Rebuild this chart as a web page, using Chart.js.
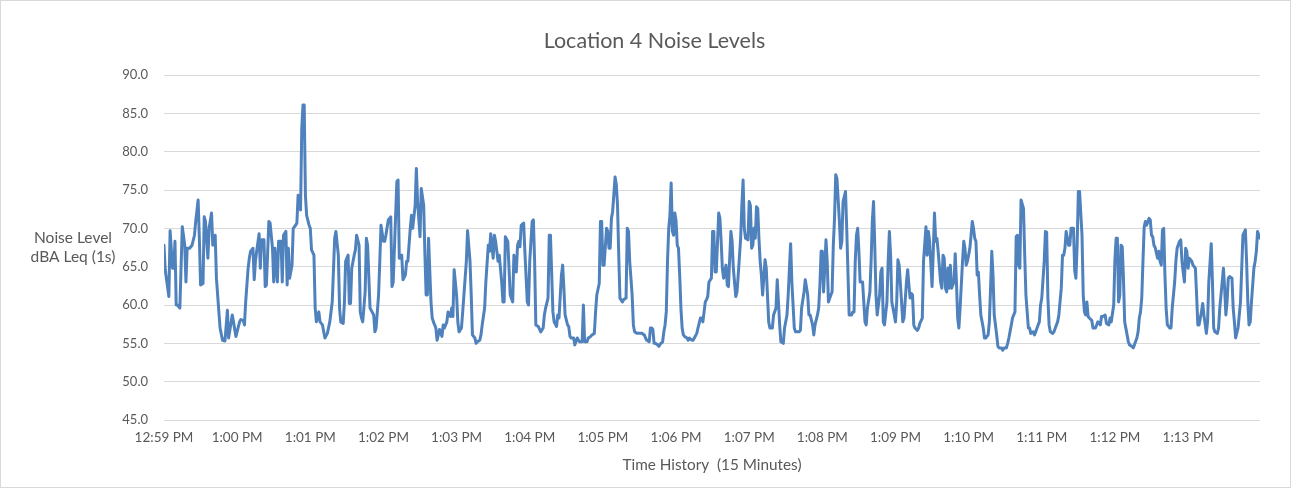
<!DOCTYPE html>
<html>
<head>
<meta charset="utf-8">
<title>Location 4 Noise Levels</title>
<script src="https://cdn.jsdelivr.net/npm/chart.js@4.4.1/dist/chart.umd.min.js"></script>
<style>
  html, body { margin: 0; padding: 0; background: #fff; }
  #wrap { width: 1291px; height: 489px; }
</style>
</head>
<body>
<div id="wrap"><canvas id="noiseChart" width="1291" height="489"></canvas></div>
<script>
// Chart text
const chartTitle = 'Location 4 Noise Levels';
const yTitleLines = ['Noise Level', 'dBA Leq (1s)'];
const xTitle = 'Time History  (15 Minutes)';

// Axis setup: start clock time, seconds between labels, last second, dBA range
const startTime = { hour: 12, minute: 59 };
const labelEvery = 60;
const lastSecond = 899;
const yRange = [45, 90, 5];

// Seconds from 12:59 PM and the matching Leq(1s) level
const seconds = [
  0, 1, 4, 5, 7, 8, 9, 10, 11, 13, 15, 17, 18, 19, 21, 23, 25, 26, 28, 29, 30, 32, 33, 34, 36, 37, 39, 40, 42, 43, 45, 46, 48, 50, 52, 53, 56, 57, 59,
  62, 63, 65, 66, 67, 69, 70, 71, 73, 74, 75, 76, 78, 79, 80, 82, 83, 84, 86, 87, 89, 90, 91, 93, 94, 96, 97, 98, 100, 101, 102, 103, 105, 106, 108, 109, 110, 111, 112, 113, 114, 115, 116, 117, 119, 120, 121, 123, 124, 125, 127, 128, 130, 131, 132, 134, 136, 138, 140, 141,
  143, 144, 145, 147, 148, 149, 151, 152, 153, 154, 156, 157, 158, 160, 161, 162, 163, 165, 166, 167, 169, 170, 172, 173, 174, 176, 177, 178, 180, 181, 182, 184, 186, 187, 188, 190, 191, 192, 193, 195, 196, 198, 199, 200, 202, 203, 204, 206, 207, 208, 210, 211, 213, 214, 215, 216, 217, 219, 220, 221, 223, 224,
  225, 226, 228, 229, 230, 232, 233, 235, 236, 237, 238, 240, 241, 242, 244, 245, 246, 248, 249, 251, 252, 253, 255, 256, 257, 259, 260, 261, 263, 264, 266, 267, 268, 270, 271, 272, 274, 275, 277, 278, 279, 280, 282, 283, 284, 286, 287, 289, 290, 291, 292, 293, 295, 296, 298, 299, 300, 302, 303, 304, 305, 307, 309,
  311, 312, 313, 315, 316, 317, 319, 320, 322, 323, 324, 326, 327, 328, 329, 331, 332, 333, 334, 336, 337, 339, 340, 341, 343, 344, 345, 347, 348, 350, 351, 353, 354, 355, 357, 358, 359, 360, 361, 363, 364, 365, 366, 367, 368, 370, 371, 372, 373, 374, 376, 377, 379, 380, 381, 382, 384, 385, 386, 388, 390,
  392, 394, 395, 396, 398, 399, 400, 401, 402, 403, 405, 406, 407, 409, 410, 411, 412, 413, 414, 415, 416, 417, 418, 419, 420, 421, 422, 423, 424, 425, 426, 427, 429, 430, 431, 433, 434, 435, 437, 438, 440, 441, 442, 444, 445, 446, 447, 449, 450, 451, 452, 453, 455, 456, 457, 458, 459, 461, 462, 463, 465, 466, 467, 469, 470, 471, 473, 474, 475,
  476, 477, 479, 480, 481, 482, 483, 484, 485, 486, 487, 488, 489, 490, 491, 493, 494, 495, 496, 497, 499, 500, 502, 503, 504, 505, 506, 508, 509, 511, 512, 513, 514, 515, 517, 518, 519, 521, 522, 523, 525, 526, 528, 529, 530, 532, 533, 534, 536, 537, 538, 539, 540, 541, 542, 543, 544, 545, 547, 548, 549, 550, 551, 552, 554, 555, 556,
  557, 559, 560, 561, 562, 564, 565, 566, 567, 568, 569, 570, 571, 573, 574, 575, 576, 577, 579, 580, 581, 582, 583, 584, 585, 587, 588, 589, 590, 591, 593, 594, 595, 596, 597, 599, 600, 601, 602, 603, 605, 606, 607, 609, 610, 611, 612, 613, 614, 615, 616, 618, 619, 620, 622, 623, 625, 626, 627, 628, 630, 631, 632, 633, 634, 635, 637, 638, 639, 640,
  641, 642, 643, 644, 645, 646, 648, 649, 650, 651, 652, 653, 655, 656, 657, 658, 659, 660, 661, 662, 663, 664, 665, 666, 667, 668, 669, 670, 672, 673, 674, 676, 677, 678, 679, 680, 681, 683, 684, 685, 687, 688, 689, 691, 692, 693, 695, 696, 698, 699, 700, 701, 702, 703, 705, 706, 707, 709, 710, 711, 713, 714, 715, 717, 718, 719, 720, 722, 723,
  724, 725, 726, 727, 729, 730, 732, 733, 734, 736, 737, 738, 739, 740, 741, 742, 743, 744, 746, 747, 748, 749, 750, 751, 753, 754, 755, 756, 757, 758, 759, 761, 762, 764, 765, 766, 768, 769, 770, 772, 773, 775, 776, 777, 779, 780, 781, 782, 783, 784, 785, 786, 787, 788, 790, 791, 792, 794, 795, 796, 798, 799, 800, 801, 802, 803, 804, 805, 806,
  808, 809, 810, 811, 812, 813, 814, 815, 816, 817, 818, 819, 820, 821, 822, 823, 825, 826, 827, 829, 830, 831, 833, 834, 835, 836, 837, 838, 839, 840, 841, 843, 844, 846, 847, 848, 849, 851, 852, 853, 855, 856, 857, 859, 860, 861, 862, 864, 865, 866, 868, 869, 870, 871, 872, 873, 874, 876, 877, 878, 879, 881, 882, 883, 884, 885, 887, 888, 889, 890, 891, 892, 894, 895, 896, 897, 898, 899
];
const dba = [
  67.8, 64.6, 61.1, 69.7, 64.8, 64.8, 68.3, 60.0, 60.0, 59.6, 70.2, 67.8, 63.0, 67.4, 67.4, 67.8, 69.1, 70.9, 73.7, 68.7, 62.6, 62.8, 71.5, 70.9, 66.1, 70.0, 72.0, 67.8, 69.1, 63.5, 59.1, 57.0, 55.4, 55.3, 59.3, 55.7, 58.7, 57.8, 55.9,
  57.8, 58.1, 58.0, 57.4, 60.4, 64.8, 66.1, 67.0, 67.4, 63.3, 65.7, 67.0, 69.3, 64.8, 68.5, 68.5, 62.4, 62.6, 70.9, 70.7, 67.4, 63.0, 67.4, 63.0, 68.3, 68.3, 63.0, 69.1, 69.6, 62.6, 67.4, 63.5, 65.2, 70.0, 70.4, 70.7, 74.3, 73.9, 72.4, 83.0, 86.1, 86.1, 74.3, 71.7, 70.4, 70.0, 67.2, 66.5, 59.6, 57.8, 59.1, 57.8, 57.4, 56.5, 55.7, 56.3, 57.8, 60.4, 68.7, 69.6,
  66.5, 59.6, 57.8, 57.6, 60.4, 65.7, 66.5, 60.2, 60.2, 64.8, 66.5, 67.2, 69.1, 67.8, 59.1, 58.3, 57.8, 61.7, 68.7, 67.8, 59.6, 59.3, 58.7, 56.5, 57.0, 61.3, 65.7, 70.4, 68.3, 68.3, 69.1, 71.1, 71.5, 62.4, 63.0, 71.7, 76.1, 76.3, 66.1, 66.5, 63.3, 63.9, 65.7, 65.7, 70.0, 71.7, 70.0, 73.0, 77.8, 73.5, 68.9, 75.2, 73.0, 66.7, 61.3, 61.3, 68.7, 60.4, 58.3, 57.8, 57.0, 55.4,
  56.1, 56.8, 55.9, 57.4, 57.0, 57.8, 59.1, 58.5, 59.6, 58.5, 64.6, 61.3, 57.8, 56.5, 57.0, 59.1, 61.3, 65.7, 69.7, 65.7, 61.3, 56.1, 55.7, 55.0, 55.2, 55.4, 56.1, 57.4, 59.6, 63.0, 67.8, 67.0, 69.3, 66.1, 69.1, 68.3, 65.7, 66.5, 63.0, 60.4, 60.4, 68.9, 68.3, 64.8, 61.3, 60.4, 66.5, 64.3, 67.8, 68.3, 67.6, 70.4, 70.7, 67.0, 60.4, 60.0, 65.7, 70.9, 71.1, 65.7, 57.4, 57.2, 56.5,
  57.0, 58.7, 59.6, 60.9, 69.1, 69.1, 59.1, 57.8, 57.2, 58.7, 58.3, 63.9, 65.2, 62.2, 58.7, 57.4, 57.2, 55.9, 55.7, 55.7, 54.8, 55.7, 55.4, 55.2, 55.2, 60.0, 55.2, 55.2, 55.7, 55.9, 56.1, 56.3, 59.1, 61.3, 62.8, 70.9, 70.9, 65.2, 65.2, 70.0, 69.6, 67.4, 67.4, 71.3, 72.2, 76.7, 75.7, 73.0, 66.5, 60.9, 60.4, 60.7, 60.9, 70.0, 69.6, 65.7, 61.3, 57.4, 56.5, 56.3, 56.3,
  56.3, 56.1, 55.7, 55.4, 55.2, 57.0, 57.0, 56.8, 55.0, 55.0, 54.8, 54.6, 54.9, 55.2, 56.5, 57.4, 59.1, 65.7, 70.0, 71.7, 75.9, 69.6, 69.1, 72.0, 71.0, 67.8, 67.4, 63.9, 59.6, 57.0, 56.1, 55.9, 55.7, 55.4, 55.7, 55.4, 55.4, 55.7, 56.3, 57.0, 58.3, 58.3, 57.8, 60.4, 60.7, 61.1, 63.0, 63.5, 69.6, 69.6, 64.3, 64.3, 72.0, 71.3, 68.3, 64.8, 63.5, 65.2, 62.6, 62.4, 69.6, 68.3, 64.8, 61.1, 61.7, 63.9, 68.7, 73.0, 76.3,
  70.0, 68.7, 68.5, 73.5, 73.0, 67.4, 67.8, 70.0, 68.7, 72.8, 72.6, 68.7, 65.7, 63.9, 61.3, 65.9, 64.8, 61.3, 57.8, 57.0, 57.0, 58.7, 59.6, 63.3, 60.4, 57.4, 55.2, 55.0, 57.0, 58.7, 61.3, 64.8, 68.0, 63.0, 57.0, 56.5, 56.5, 56.5, 56.7, 59.6, 61.7, 63.3, 61.3, 58.7, 58.7, 57.4, 56.1, 57.4, 58.7, 59.6, 62.6, 67.0, 67.0, 61.7, 64.8, 68.5, 65.7, 60.4, 61.3, 61.7, 67.8, 71.3, 77.0, 76.5, 70.9, 67.4, 68.3,
  73.5, 74.8, 70.0, 64.3, 58.7, 58.7, 59.1, 59.1, 65.7, 69.1, 70.0, 67.0, 63.0, 63.0, 60.4, 57.8, 57.4, 59.6, 61.7, 65.7, 70.9, 73.5, 67.8, 61.3, 58.7, 61.3, 64.3, 64.8, 57.8, 57.4, 60.4, 65.7, 69.6, 66.5, 60.4, 58.7, 57.8, 60.4, 65.9, 65.2, 60.4, 57.8, 58.3, 63.0, 64.6, 62.6, 60.9, 61.5, 61.3, 57.4, 57.0, 56.7, 57.0, 57.6, 58.3, 65.7, 70.2, 66.5, 69.6, 68.3, 62.4, 67.0, 72.0, 68.3, 68.7, 67.0, 63.0, 62.2, 66.5, 66.1,
  62.2, 61.7, 64.8, 62.2, 65.2, 62.2, 63.0, 66.7, 63.0, 58.3, 57.0, 59.6, 65.7, 68.3, 67.4, 65.2, 65.7, 66.5, 67.4, 69.1, 70.9, 70.0, 68.7, 68.3, 63.9, 64.3, 61.3, 58.7, 57.0, 55.7, 55.7, 56.1, 57.8, 62.2, 67.0, 63.9, 58.7, 56.1, 54.6, 54.4, 54.4, 54.1, 54.4, 54.4, 55.0, 55.7, 57.4, 58.3, 59.1, 68.9, 69.1, 65.2, 64.8, 73.7, 72.6, 66.5, 61.3, 57.0, 57.0, 56.3, 56.5, 56.1, 56.5, 57.4, 57.8, 60.0, 60.9, 65.7, 69.6,
  69.5, 61.0, 57.4, 56.5, 56.3, 56.5, 57.4, 57.8, 58.7, 62.2, 66.5, 66.5, 67.4, 69.6, 68.7, 67.8, 67.8, 70.0, 70.0, 64.5, 63.5, 67.8, 74.8, 74.8, 69.1, 61.3, 59.1, 58.7, 60.4, 58.5, 58.3, 58.0, 57.0, 57.0, 57.4, 57.8, 57.4, 58.5, 58.5, 58.7, 57.6, 57.4, 58.3, 57.8, 60.0, 66.0, 68.7, 68.7, 60.4, 61.3, 67.8, 67.6, 63.5, 57.8, 56.1, 55.2, 54.8, 54.6, 54.4, 54.8, 55.7, 56.5, 58.3, 59.1, 60.9, 65.7, 70.2, 70.9, 70.4,
  71.3, 71.1, 69.1, 68.9, 67.8, 67.5, 66.8, 66.1, 67.0, 65.7, 65.2, 69.8, 70.0, 64.0, 59.6, 57.4, 57.0, 57.0, 59.6, 63.0, 65.7, 67.4, 68.3, 68.5, 65.7, 64.3, 63.0, 67.4, 67.0, 64.8, 66.1, 65.7, 65.2, 64.8, 61.3, 57.4, 57.4, 59.1, 60.2, 58.7, 56.3, 57.8, 63.0, 68.0, 63.0, 57.0, 56.5, 56.3, 57.0, 59.6, 63.0, 64.8, 62.2, 58.7, 60.4, 63.5, 63.7, 63.5, 59.6, 57.8, 55.7, 57.0, 58.7, 60.4, 64.8, 69.1, 69.8, 65.7, 60.4, 57.4, 57.8, 60.4, 64.8, 65.7, 67.0, 69.6, 69.1, 68.7
];

const textColor = '#595959';
const fontFamily = 'Lato, "Open Sans", sans-serif';

function clockLabel(sec) {
  const total = startTime.hour * 60 + startTime.minute + Math.floor(sec / 60);
  const h = Math.floor(total / 60) % 12 || 12;
  const m = String(total % 60).padStart(2, '0');
  return h + ':' + m + ' PM';
}

// one label per minute, like Excel's category interval of 60
const minuteMarks = [];
for (let s = 0; s <= lastSecond; s += labelEvery) minuteMarks.push(s);

// chart border, title, horizontal two-line y title
const frame = {
  id: 'frame',
  beforeDraw(chart) {
    const { ctx, width, height } = chart;
    ctx.save();
    ctx.fillStyle = '#fff';
    ctx.fillRect(0, 0, width, height);
    ctx.strokeStyle = '#d9d9d9';
    ctx.lineWidth = 1;
    ctx.strokeRect(0.5, 0.5, width - 1, height - 2);
    ctx.restore();
  },
  afterDraw(chart) {
    const { ctx, chartArea, width } = chart;
    const mid = (chartArea.top + chartArea.bottom) / 2;
    ctx.save();
    ctx.fillStyle = textColor;
    ctx.textAlign = 'center';
    ctx.textBaseline = 'middle';
    ctx.font = '21.5px ' + fontFamily;
    // Excel put the title a little right of the chart's middle
    ctx.fillText(chartTitle, width / 2 + 9, chartArea.top - 34);
    ctx.font = '15.5px ' + fontFamily;
    yTitleLines.forEach((line, i) => {
      ctx.fillText(line, chartArea.left - 91, mid - 9.5 + i * 19);
    });
    ctx.restore();
  }
};

new Chart(document.getElementById('noiseChart'), {
  type: 'line',
  data: {
    datasets: [{
      data: seconds.map((s, i) => ({ x: s, y: dba[i] })),
      borderColor: '#4f81bd',
      borderWidth: 3,
      borderJoinStyle: 'round',
      borderCapStyle: 'round',
      pointRadius: 0,
      tension: 0,
      fill: false
    }]
  },
  options: {
    responsive: false,
    animation: false,
    devicePixelRatio: 1,
    layout: { padding: { left: 0, right: 31, top: 75, bottom: 0 } },
    plugins: {
      legend: { display: false },
      tooltip: { enabled: false },
      title: { display: false }
    },
    scales: {
      x: {
        type: 'linear',
        min: 0,
        max: lastSecond,
        grid: { display: false, drawTicks: false },
        border: { display: false },
        ticks: {
          autoSkip: false,
          maxRotation: 0,
          padding: 10,
          color: textColor,
          font: { family: fontFamily, size: 13.5 },
          callback: v => clockLabel(v)
        },
        afterBuildTicks: s => {
          s.ticks = minuteMarks.map(v => ({ value: v }));
        },
        title: {
          display: true,
          text: xTitle,
          color: textColor,
          font: { family: fontFamily, size: 15.3 },
          padding: { top: 0, bottom: 14.8 }
        },
        afterFit: s => { s.height = 69; }
      },
      y: {
        min: yRange[0],
        max: yRange[1],
        grid: { color: '#d9d9d9', lineWidth: 1, drawTicks: false },
        border: { display: false },
        ticks: {
          stepSize: yRange[2],
          padding: 16,
          color: textColor,
          font: { family: fontFamily, size: 13 },
          callback: v => v.toFixed(1)
        },
        afterFit: s => { s.width = 164; }
      }
    }
  },
  plugins: [frame]
});
</script>
</body>
</html>
